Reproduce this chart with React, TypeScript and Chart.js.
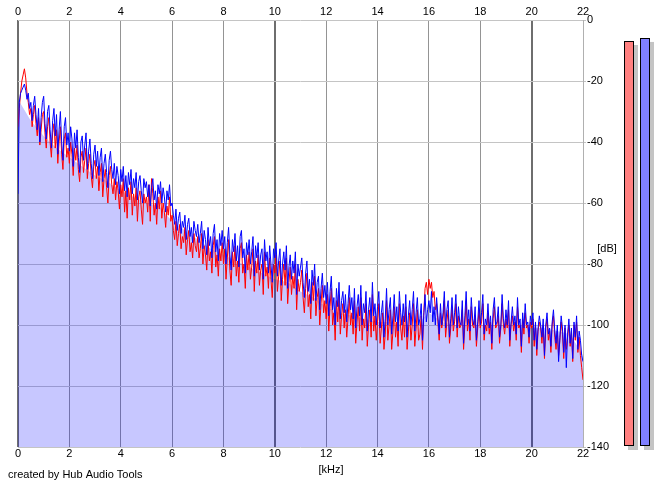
import React, { useEffect, useRef } from "react";
import { Chart, registerables } from "chart.js";
Chart.register(...registerables);

// ---- data ----
const STEP_KHZ = 0.05; // spacing of spectrum samples
const FILL_STEP_KHZ = 0.5; // spacing of the average (filled) curve
const X_MIN = 0;
const X_MAX = 22;
const X_STEP = 2;
const Y_MIN = -140;
const Y_MAX = 0;
const Y_STEP = 20;

// right channel (blue), dB, 0.00 .. 22.00 kHz, one row per kHz
const BLUE_DB = [
  -57, -27, -24, -23, -22, -21, -23, -26, -24, -29, -27, -33, -28, -25, -31, -36, -29, -40, -32, -27,
  -25, -34, -39, -30, -28, -36, -42, -33, -29, -38, -31, -44, -36, -30, -40, -46, -35, -32, -41, -37,
  -43, -35, -39, -48, -37, -42, -36, -45, -50, -40, -38, -46, -41, -37, -49, -43, -39, -47, -52, -44,
  -41, -48, -43, -51, -45, -42, -53, -47, -44, -50, -55, -46, -43, -49, -52, -47, -54, -48, -51, -57,
  -49, -53, -48, -56, -51, -58, -50, -54, -49, -57, -52, -55, -50, -59, -53, -51, -56, -60, -52, -55,
  -53, -58, -54, -61, -55, -52, -59, -56, -62, -54, -57, -53, -60, -55, -58, -63, -56, -59, -54, -61,
  -60, -64, -67, -62, -69, -65, -63, -70, -66, -68, -64, -72, -67, -65, -71, -68, -73, -66, -69, -71,
  -67, -73, -70, -66, -75, -69, -72, -77, -68, -74, -71, -78, -70, -67, -76, -72, -79, -70, -74, -69,
  -75, -71, -80, -73, -68, -77, -82, -72, -76, -70, -79, -74, -81, -71, -69, -78, -75, -83, -73, -77,
  -72, -80, -76, -71, -84, -74, -78, -73, -82, -77, -75, -85, -72, -79, -76, -83, -74, -80, -86, -75,
  -78, -73, -84, -79, -75, -87, -80, -76, -82, -74, -88, -81, -77, -85, -79, -83, -76, -90, -80, -84,
  -81, -78, -86, -91, -83, -79, -89, -85, -93, -82, -87, -80, -92, -86, -84, -95, -88, -83, -91, -87,
  -93, -86, -97, -89, -84, -95, -91, -100, -88, -94, -86, -98, -92, -89, -96, -90, -99, -93, -87, -95,
  -91, -98, -88, -101, -94, -90, -97, -87, -100, -93, -96, -89, -102, -95, -91, -99, -86, -97, -93, -100,
  -94, -89, -101, -96, -92, -104, -98, -88, -100, -95, -91, -103, -97, -90, -99, -94, -102, -89, -96, -100,
  -93, -99, -90, -104, -97, -92, -100, -95, -89, -102, -96, -91, -100, -98, -93, -105, -97, -90, -99, -95,
  -92, -96, -89, -99, -94, -100, -91, -97, -103, -93, -100, -96, -89, -101, -95, -92, -104, -98, -91, -100,
  -96, -90, -101, -94, -99, -100, -92, -106, -97, -89, -100, -95, -102, -91, -98, -100, -94, -105, -99, -92,
  -100, -96, -90, -103, -98, -100, -93, -101, -97, -106, -95, -91, -100, -99, -94, -104, -100, -90, -98, -101,
  -95, -100, -92, -105, -99, -94, -100, -97, -103, -91, -100, -98, -107, -96, -101, -93, -100, -99, -104, -97,
  -100, -96, -105, -99, -108, -101, -97, -100, -104, -98, -110, -100, -96, -103, -101, -107, -99, -95, -102, -106,
  -100, -112, -104, -97, -101, -109, -100, -114, -103, -98, -106, -101, -111, -99, -104, -97, -108, -102, -105, -110,
  -112,
];

// left channel (red), dB, 0.00 .. 22.00 kHz, one row per kHz
const RED_DB = [
  -35, -29, -24, -20, -18, -16, -19, -24, -27, -31, -29, -35, -31, -28, -34, -38, -32, -41, -36, -31,
  -30, -37, -42, -35, -32, -40, -45, -37, -34, -42, -36, -47, -40, -35, -44, -49, -39, -37, -45, -42,
  -47, -40, -44, -51, -42, -46, -41, -49, -53, -45, -43, -50, -46, -42, -52, -47, -44, -51, -55, -48,
  -46, -52, -48, -56, -50, -47, -58, -52, -49, -55, -60, -51, -48, -54, -57, -52, -59, -53, -56, -62,
  -54, -58, -52, -63, -56, -65, -55, -59, -53, -64, -57, -61, -55, -66, -58, -56, -62, -67, -57, -60,
  -58, -63, -54, -66, -52, -57, -64, -60, -67, -58, -62, -56, -65, -60, -63, -68, -61, -64, -58, -66,
  -64, -69, -72, -66, -74, -70, -67, -75, -71, -73, -68, -77, -72, -69, -76, -73, -78, -70, -74, -76,
  -71, -78, -75, -70, -80, -74, -77, -82, -72, -79, -76, -83, -74, -71, -81, -77, -84, -75, -79, -73,
  -80, -75, -85, -78, -72, -82, -87, -76, -81, -74, -84, -79, -86, -75, -73, -83, -80, -88, -77, -82,
  -76, -85, -81, -75, -89, -79, -83, -77, -87, -82, -80, -90, -76, -84, -81, -88, -78, -85, -91, -80,
  -83, -77, -89, -84, -79, -92, -85, -80, -87, -78, -93, -86, -81, -90, -84, -88, -80, -95, -85, -89,
  -86, -82, -91, -96, -88, -83, -94, -90, -98, -86, -92, -84, -97, -91, -88, -100, -93, -87, -96, -92,
  -98, -90, -102, -94, -88, -100, -96, -105, -92, -99, -90, -103, -97, -93, -101, -95, -104, -98, -91, -100,
  -96, -103, -92, -106, -99, -94, -102, -91, -105, -98, -101, -93, -107, -100, -95, -104, -90, -102, -97, -105,
  -99, -93, -106, -101, -96, -108, -103, -92, -105, -100, -95, -108, -102, -94, -104, -99, -107, -93, -101, -105,
  -97, -104, -94, -108, -102, -96, -105, -100, -93, -107, -101, -95, -105, -103, -97, -108, -96, -88, -86, -90,
  -85, -88, -86, -91, -89, -95, -93, -99, -105, -96, -101, -98, -92, -104, -99, -95, -106, -101, -94, -102,
  -99, -93, -104, -97, -101, -100, -95, -108, -100, -92, -102, -98, -105, -94, -100, -101, -97, -107, -101, -95,
  -101, -99, -93, -105, -100, -102, -96, -103, -99, -108, -98, -94, -101, -100, -97, -106, -101, -93, -100, -103,
  -98, -101, -95, -107, -100, -97, -102, -99, -105, -94, -101, -100, -109, -98, -103, -96, -101, -100, -106, -99,
  -101, -98, -107, -100, -110, -102, -99, -101, -106, -100, -111, -101, -98, -105, -102, -109, -100, -97, -104, -108,
  -102, -110, -105, -99, -103, -111, -101, -108, -104, -100, -107, -102, -112, -100, -105, -99, -109, -104, -110, -114,
  -118,
];

// average level (lavender area), dB, 0.0 .. 22.0 kHz every 0.5 kHz
const FILL_DB = [
  -26, -33, -38, -42, -45, -48, -51, -53, -56, -58,
  -60, -61, -66, -69, -72, -75, -77, -79, -81, -83,
  -85, -86, -89, -91, -94, -96, -97, -98, -99, -99,
  -100, -100, -96, -99, -100, -100, -100, -100, -100, -100,
  -101, -101, -102, -103, -110,
];

// peak level meters at the right
const LEVEL_LABELS = ["L", "R"];
const LEVEL_DB = [-6.9, -5.9];
const LEVEL_COLORS = ["#ff8080", "#8080ff"];

const CREDIT = "created by Hub Audio Tools";
const X_UNIT = "[kHz]";
const Y_UNIT = "[dB]";

const FONT_FAMILY = "'Liberation Sans', Arial, sans-serif";
const FONT = { family: FONT_FAMILY, size: 11 };

const textPlugin = {
  id: "extraTexts",
  afterDraw(chart: any) {
    const ctx = chart.ctx;
    ctx.save();
    ctx.font = `11px ${FONT_FAMILY}`;
    ctx.fillStyle = "#000";
    ctx.textBaseline = "middle";
    ctx.textAlign = "left";
    ctx.fillText(CREDIT, 8, 475);
    ctx.textAlign = "center";
    ctx.fillText(X_UNIT, 331, 470);
    ctx.fillText(Y_UNIT, 607, 249);
    ctx.restore();
  },
};

// grey drop shadow behind each level bar, taken from the bar elements
const shadowPlugin = {
  id: "barShadow",
  beforeDatasetsDraw(chart: any) {
    const ctx = chart.ctx;
    const meta = chart.getDatasetMeta(0);
    ctx.save();
    ctx.fillStyle = "#c4c4c4";
    meta.data.forEach((el: any) => {
      const { x, y, base, width } = el.getProps(["x", "y", "base", "width"], true);
      const top = Math.min(y, base);
      const h = Math.abs(base - y);
      ctx.fillRect(x - width / 2 + 4, top + 4, width, h);
    });
    ctx.restore();
  },
};

function isMajor(v: number) {
  return v === 0 || v === 10 || v === 20;
}

export default function App() {
  const mainRef = useRef<HTMLCanvasElement | null>(null);
  const levelRef = useRef<HTMLCanvasElement | null>(null);

  useEffect(() => {
    const blue = BLUE_DB.map((v, i) => ({ x: i * STEP_KHZ, y: v }));
    const red = RED_DB.map((v, i) => ({ x: i * STEP_KHZ, y: v }));
    const avg = FILL_DB.map((v, i) => ({ x: i * FILL_STEP_KHZ, y: v }));

    const main = new Chart(mainRef.current as HTMLCanvasElement, {
      type: "line",
      data: {
        datasets: [
          {
            label: "Right",
            data: blue,
            borderColor: "#0000ff",
            borderWidth: 1,
            pointRadius: 0,
            fill: false,
            xAxisID: "x",
            yAxisID: "y",
          },
          {
            label: "Left",
            data: red,
            borderColor: "#ff0000",
            borderWidth: 1,
            pointRadius: 0,
            fill: false,
            xAxisID: "x",
            yAxisID: "y",
          },
          {
            label: "Average",
            data: avg,
            borderColor: "rgba(0,0,0,0)",
            borderWidth: 0,
            backgroundColor: "rgba(0,0,255,0.22)",
            pointRadius: 0,
            fill: "start",
            xAxisID: "x",
            yAxisID: "y",
          },
        ],
      },
      options: {
        animation: false,
        responsive: false,
        events: [],
        layout: { padding: { left: 18, right: 0, top: 0, bottom: 0 } },
        plugins: { legend: { display: false }, tooltip: { enabled: false } },
        scales: {
          x: {
            type: "linear",
            position: "bottom",
            min: X_MIN,
            max: X_MAX,
            border: { display: false },
            grid: {
              drawTicks: false,
              color: (c: any) =>
                c.tick && isMajor(c.tick.value)
                  ? "#6e6e6e"
                  : c.tick && c.tick.value === X_MAX
                  ? "#b0b0b0"
                  : "#949494",
              lineWidth: (c: any) => (c.tick && isMajor(c.tick.value) ? 2 : 1),
            },
            ticks: { stepSize: X_STEP, padding: 0, color: "#000", font: FONT, maxRotation: 0, autoSkip: false },
            afterFit: (s: any) => {
              s.height = 40;
            },
          },
          xTop: {
            type: "linear",
            position: "top",
            min: X_MIN,
            max: X_MAX,
            border: { display: false },
            grid: { display: false, drawTicks: false },
            ticks: { stepSize: X_STEP, padding: 1, color: "#000", font: FONT, maxRotation: 0, autoSkip: false },
            afterFit: (s: any) => {
              s.height = 20;
            },
          },
          y: {
            type: "linear",
            position: "right",
            min: Y_MIN,
            max: Y_MAX,
            border: { display: true, color: "#b0b0b0", width: 1 },
            grid: { color: "#c4c4c4", lineWidth: 1, drawTicks: true, tickLength: 3 },
            ticks: { stepSize: Y_STEP, padding: 1, color: "#000", font: FONT },
            afterFit: (s: any) => {
              s.width = 37;
            },
          },
        },
      } as any,
      plugins: [textPlugin],
    });

    const level = new Chart(levelRef.current as HTMLCanvasElement, {
      type: "bar",
      data: {
        labels: LEVEL_LABELS,
        datasets: [
          {
            label: "Peak",
            data: LEVEL_DB.map((v) => [Y_MIN, v]),
            backgroundColor: LEVEL_COLORS,
            borderColor: "#000",
            borderWidth: 1,
            borderSkipped: false,
            barPercentage: 0.625,
            categoryPercentage: 1,
          },
        ],
      },
      options: {
        animation: false,
        responsive: false,
        events: [],
        layout: { padding: { left: 0, right: 12, top: 20, bottom: 41 } },
        plugins: { legend: { display: false }, tooltip: { enabled: false } },
        scales: {
          x: { display: false },
          y: { display: false, min: Y_MIN, max: Y_MAX },
        },
      } as any,
      plugins: [shadowPlugin],
    });

    return () => {
      main.destroy();
      level.destroy();
    };
  }, []);

  return (
    <div
      style={{
        position: "absolute",
        left: 0,
        top: 0,
        width: 665,
        height: 487,
        background: "#fff",
        overflow: "hidden",
      }}
    >
      <canvas
        ref={mainRef}
        width={620}
        height={487}
        style={{ position: "absolute", left: 0, top: 0, width: 620, height: 487 }}
      />
      <canvas
        ref={levelRef}
        width={44}
        height={487}
        style={{ position: "absolute", left: 621, top: 0, width: 44, height: 487 }}
      />
    </div>
  );
}
